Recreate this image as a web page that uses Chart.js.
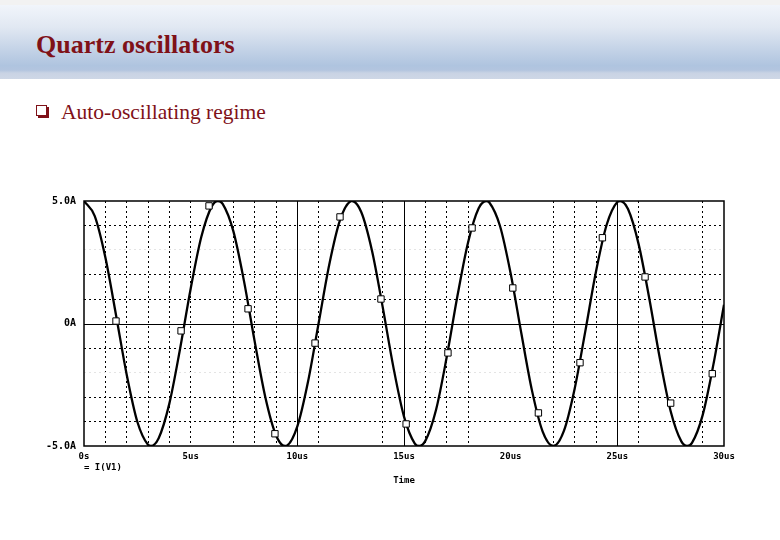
<!DOCTYPE html>
<html>
<head>
<meta charset="utf-8">
<title>Quartz oscillators</title>
<script src="https://cdn.jsdelivr.net/npm/chart.js@4/dist/chart.umd.min.js"></script>
<style>
  body { margin: 0; width: 780px; height: 540px; background: #fff; position: relative; overflow: hidden; font-family: "Liberation Serif", "Times New Roman", serif; }
  .strip { position: absolute; left: 0; top: 0; width: 780px; height: 5px; background: #f2f2f2; }
  .band { position: absolute; left: 0; top: 5px; width: 780px; height: 74px;
    background: linear-gradient(to bottom, #f1f5fb 0%, #e1e8f2 30%, #c4d3e7 60%, #afc4df 82%, #b3c5df 88%, #c9d3e4 92%, #ced7e6 100%); }
  h1 { position: absolute; left: 36px; top: 32px; margin: 0; font-size: 26px; line-height: 1; font-weight: bold; color: #7f1118; }
  .bullet { position: absolute; left: 61px; top: 102px; margin: 0; font-size: 21.5px; line-height: 1; color: #7f1118; }
  .box { position: absolute; left: 36px; top: 105px; width: 9px; height: 9px; border: 1.5px solid #7f1118; box-shadow: 2px 2px 0 #7f1118; }
  .trace { position: absolute; left: 84px; top: 462px; font: bold 9px "DejaVu Sans Mono", monospace; color: #000; white-space: pre; }
  #wrap { position: absolute; left: 0; top: 185px; width: 780px; height: 320px; }
</style>
</head>
<body>
<div class="strip"></div>
<div class="band"></div>
<h1>Quartz oscillators</h1>
<div class="box"></div>
<p class="bullet">Auto-oscillating regime</p>
<div id="wrap"><canvas id="osc"></canvas></div>
<div class="trace">= I(V1)</div>

<script>
// time axis in us, current I(V1) in A
const timeUs = [0, 0.5, 1, 1.5, 2, 2.5, 3, 3.14, 3.5, 4, 4.5, 5, 5.5, 6, 6.28, 6.5, 7, 7.5, 8, 8.5,
  9, 9.42, 9.5, 10, 10.5, 11, 11.5, 12, 12.5, 12.57, 13, 13.5, 14, 14.5, 15, 15.5, 15.71, 16, 16.5, 17,
  17.5, 18, 18.5, 18.85, 19, 19.5, 20, 20.5, 21, 21.5, 22, 22.5, 23, 23.5, 24, 24.5, 25, 25.13, 25.5, 26,
  26.5, 27, 27.5, 28, 28.27, 28.5, 29, 29.5, 30];
const currentA = [5.00, 4.39, 2.70, 0.35, -2.08, -4.01, -4.95, -5.00, -4.68, -3.27, -1.05, 1.42, 3.54, 4.80, 5.00, 4.88, 3.77, 1.73, -0.73, -3.01,
  -4.56, -5.00, -4.99, -4.20, -2.38, 0.02, 2.42, 4.22, 4.99, 5.00, 4.54, 2.97, 0.68, -1.77, -3.80, -4.89, -5.00, -4.79, -3.53, -1.38,
  1.10, 3.30, 4.70, 5.00, 4.94, 3.98, 2.04, -0.40, -2.74, -4.41, -5.00, -4.37, -2.66, -0.31, 2.12, 4.03, 4.96, 5.00, 4.67, 3.23,
  1.01, -1.46, -3.58, -4.81, -5.00, -4.87, -3.74, -1.69, 0.77];

// hollow square markers on the trace
const markerTimes  = [1.5, 4.55, 5.86, 7.69, 8.95, 10.83, 12.0, 13.92, 15.1, 17.06, 18.19, 20.1, 21.3, 23.25, 24.3, 26.3, 27.5, 29.45];
const markerValues = [0.1, -0.3, 4.8, 0.6, -4.5, -0.8, 4.35, 1.0, -4.1, -1.2, 3.9, 1.45, -3.65, -1.6, 3.5, 1.9, -3.25, -2.05];

// axis labels
const yLabels = { '5': '5.0A', '0': '0A', '-5': '-5.0A' };
const xLabelStep = 5;
const solidTimes = [10, 15, 25];
const hiddenTimes = [6, 12, 13, 19, 20, 21, 27, 28];
const faintLevels = [3, -2];

const monoFont = { family: '"DejaVu Sans Mono", monospace', size: 9, weight: 'bold' };

// frame + solid grid lines like the probe window
const plotFrame = {
  id: 'plotFrame',
  beforeDatasetsDraw(chart) {
    const { ctx, chartArea: a, scales: { x, y } } = chart;
    ctx.save();
    ctx.strokeStyle = '#000';
    ctx.lineWidth = 1;
    ctx.beginPath();
    solidTimes.forEach(t => {
      const px = Math.round(x.getPixelForValue(t)) + 0.5;
      ctx.moveTo(px, a.top);
      ctx.lineTo(px, a.bottom);
    });
    const py = Math.round(y.getPixelForValue(0)) + 0.5;
    ctx.moveTo(a.left, py);
    ctx.lineTo(a.right, py);
    ctx.stroke();
    ctx.lineWidth = 1.5;
    ctx.strokeRect(a.left, a.top, a.right - a.left, a.bottom - a.top);
    ctx.restore();
  }
};

const trace = timeUs.map((t, i) => ({ x: t, y: currentA[i] }));
const markers = markerTimes.map((t, i) => ({ x: t, y: markerValues[i] }));

new Chart(document.getElementById('osc').getContext('2d'), {
  type: 'line',
  data: {
    datasets: [
      {
        type: 'scatter',
        label: 'markers',
        data: markers,
        pointStyle: 'rect',
        pointRadius: 4.5,
        pointBackgroundColor: '#fff',
        pointBorderColor: '#000',
        pointBorderWidth: 1,
        order: 0
      },
      {
        label: 'I(V1)',
        data: trace,
        borderColor: '#000',
        borderWidth: 2.3,
        pointRadius: 0,
        cubicInterpolationMode: 'monotone',
        fill: false,
        order: 1
      }
    ]
  },
  options: {
    responsive: true,
    maintainAspectRatio: false,
    animation: false,
    layout: { padding: { left: 0, right: 56, top: 16, bottom: 19 } },
    plugins: { legend: { display: false }, tooltip: { enabled: false } },
    scales: {
      x: {
        type: 'linear',
        min: 0,
        max: 30,
        afterFit: s => { s.height = 40; },
        border: { display: false, dash: [2, 3] },
        grid: {
          drawTicks: false,
          lineWidth: 1,
          color: c => {
            const v = c.tick ? c.tick.value : null;
            if (v === 0 || v === 30 || solidTimes.includes(v) || hiddenTimes.includes(v)) return 'transparent';
            return '#000';
          }
        },
        ticks: {
          stepSize: 1,
          autoSkip: false,
          maxRotation: 0,
          padding: 5,
          color: '#000',
          font: monoFont,
          callback: v => v % xLabelStep === 0 ? (v === 0 ? '0s' : v + 'us') : ''
        },
        title: { display: true, text: 'Time', color: '#000', font: monoFont, padding: { top: 0, bottom: 0 } }
      },
      y: {
        min: -5,
        max: 5,
        afterFit: s => { s.width = 84; },
        border: { display: false, dash: [2, 3] },
        grid: {
          drawTicks: false,
          lineWidth: 1,
          color: c => {
            const v = c.tick ? c.tick.value : null;
            if (v === 0 || v === 5 || v === -5) return 'transparent';
            if (faintLevels.includes(v)) return '#e4e4e4';
            return '#000';
          }
        },
        ticks: {
          stepSize: 1,
          padding: 8,
          color: '#000',
          font: { family: '"DejaVu Sans Mono", monospace', size: 10, weight: 'bold' },
          callback: v => yLabels[String(v)] || ''
        }
      }
    }
  },
  plugins: [plotFrame]
});
</script>
</body>
</html>
